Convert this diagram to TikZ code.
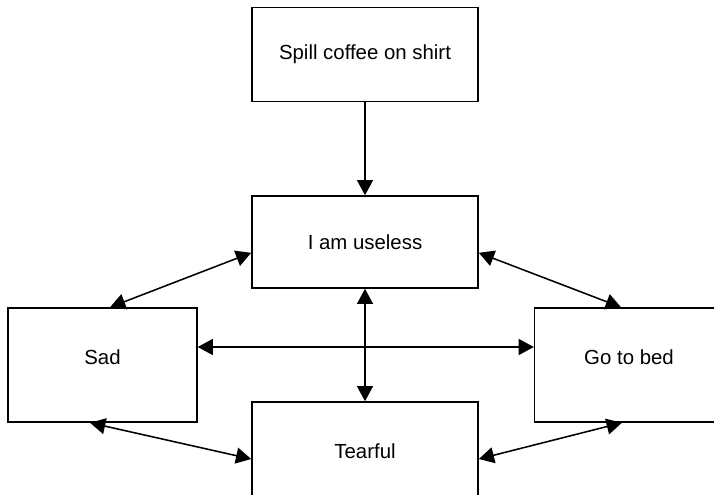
\documentclass[tikz,border=0pt]{standalone}
\usepackage{fontspec}
\setmainfont{Liberation Sans}
\usetikzlibrary{arrows.meta,positioning,calc}

\begin{document}
\begin{tikzpicture}[
    x=0.025cm, y=-0.025cm,
    boxnode/.style={
        draw=black,
        fill=white,
        line width=1.1pt,
        minimum width=5.65cm,
        minimum height=2.35cm,
        inner sep=0pt,
        font=\fontsize{14.5}{17}\selectfont
    },
    sidenode/.style={
        boxnode,
        minimum width=4.72cm,
        minimum height=2.85cm,
        text depth=0.4cm
    },
    onearrow/.style={
        -{Triangle[length=3.8mm, width=4mm]},
        line width=1.1pt
    },
    twoarrow/.style={
        {Triangle[length=3.8mm, width=4mm]}-{Triangle[length=3.8mm, width=4mm]},
        line width=1.1pt
    }
]
    \clip (0,0) rectangle (714,494);
    \fill[white] (0,0) rectangle (714,494);

    % --- BOXES ---
    \node[boxnode] (spill) at (365, 54.5) {Spill coffee on shirt};
    \node[boxnode, minimum height=2.3cm] (useless) at (365, 242) {I am useless};
    \node[sidenode] (sad) at (102.5, 365) {Sad};
    \node[sidenode] (bed) at (629, 365) {Go to bed};
    \node[sidenode, minimum width=5.65cm] (tear) at (365, 459) {Tearful};

    % --- CONNECTORS ---
    \draw[onearrow] (spill.south) -- (useless.north);
    \draw[twoarrow] (useless.south) -- (tear.north);
    \draw[twoarrow] ([yshift=-0.27cm]useless.west) -- ([xshift=0.19cm]sad.north);
    \draw[twoarrow] ([yshift=-0.27cm]useless.east) -- ([xshift=-0.2cm]bed.north);
    \draw[twoarrow] ([yshift=0.45cm]sad.east) -- ([yshift=0.45cm]bed.west);
    \draw[twoarrow] ([xshift=-0.31cm]sad.south) -- (tear.west);
    \draw[twoarrow] (tear.east) -- ([xshift=-0.18cm]bed.south);
\end{tikzpicture}
\end{document}
